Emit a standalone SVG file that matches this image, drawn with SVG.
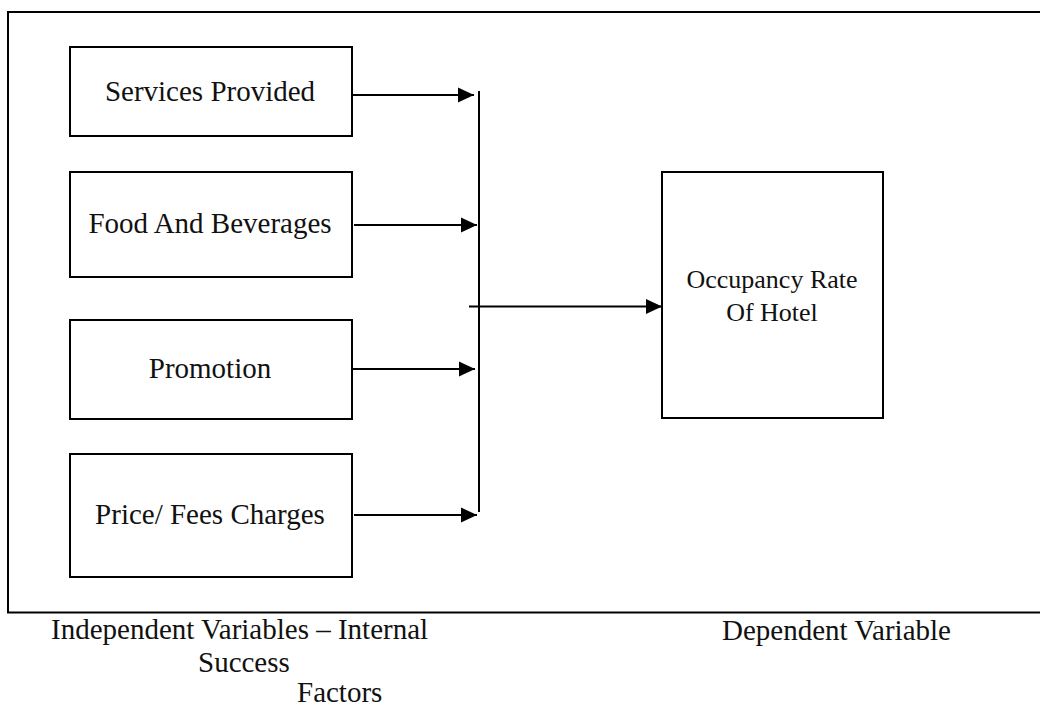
<svg xmlns="http://www.w3.org/2000/svg" width="1040" height="708" viewBox="0 0 1040 708">
<style>
.box{fill:#fff;stroke:#000;stroke-width:2}
.ln{stroke:#000;stroke-width:2;fill:none}
.t{font-family:"Liberation Serif","Times New Roman",serif;font-size:29px;fill:#111}
.c{text-anchor:middle}
</style>
<defs>
<marker id="ah" markerUnits="userSpaceOnUse" markerWidth="17" markerHeight="16" refX="16" refY="8" orient="auto">
<path d="M0,0.5 L16,8 L0,15.5 Z" fill="#000"/>
</marker>
</defs>
<rect width="1040" height="708" fill="#fff"/>
<g id="frame">
<path class="ln" d="M1042,12 H8 V612.5 H1042"/>
</g>
<g id="n1"><rect class="box" x="70" y="47" width="282" height="89"/><text class="t c" x="210" y="101">Services Provided</text></g>
<g id="n2"><rect class="box" x="70" y="172" width="282" height="105"/><text class="t c" x="210" y="233">Food And Beverages</text></g>
<g id="n3"><rect class="box" x="70" y="320" width="282" height="99"/><text class="t c" x="210" y="378">Promotion</text></g>
<g id="n4"><rect class="box" x="70" y="454" width="282" height="123"/><text class="t c" x="210" y="524">Price/ Fees Charges</text></g>
<g id="n5"><rect class="box" x="662" y="172" width="221" height="246"/><text class="t c" x="772" y="288" style="font-size:26px">Occupancy Rate</text><text class="t c" x="772" y="321" style="font-size:26px">Of Hotel</text></g>
<g id="connectors">
<line class="ln" x1="352" y1="95" x2="474" y2="95" marker-end="url(#ah)"/>
<line class="ln" x1="354" y1="225" x2="477" y2="225" marker-end="url(#ah)"/>
<line class="ln" x1="352" y1="369" x2="475" y2="369" marker-end="url(#ah)"/>
<line class="ln" x1="354" y1="515" x2="477" y2="515" marker-end="url(#ah)"/>
<line class="ln" x1="479" y1="91" x2="479" y2="512"/>
<line class="ln" x1="469" y1="306.5" x2="662" y2="306.5" marker-end="url(#ah)"/>
</g>
<g id="labels">
<text class="t" x="51" y="639">Independent Variables – Internal</text>
<text class="t" x="198" y="672">Success</text>
<text class="t" x="297" y="702">Factors</text>
<text class="t" x="722" y="640">Dependent Variable</text>
</g>
</svg>
